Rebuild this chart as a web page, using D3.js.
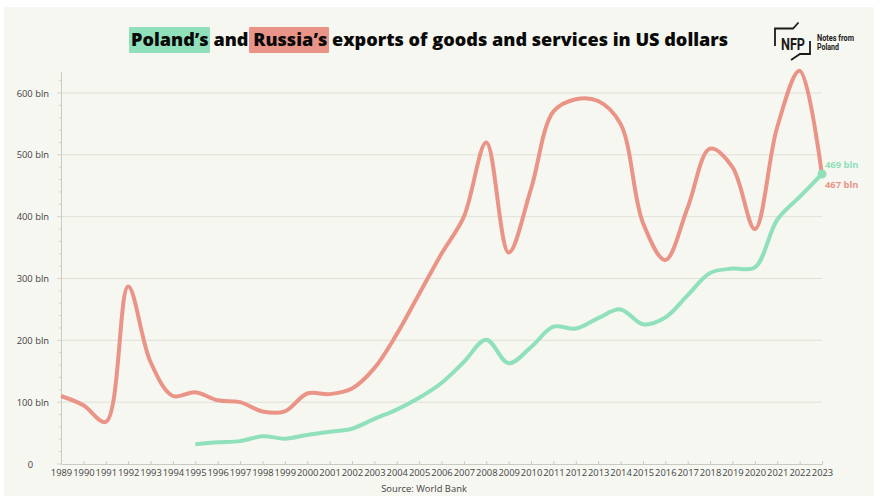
<!DOCTYPE html>
<html><head><meta charset="utf-8">
<script src="https://cdn.jsdelivr.net/npm/d3@7"></script>
<style>
html,body{margin:0;padding:0;background:#fff;}
text{font-family:"Open Sans",sans-serif;}
</style></head><body>
<svg id="c" width="887" height="504"></svg>
<script>
const years = d3.range(1989, 2024);
const russia = [110,95,68,287,165,110,116,103,100,85,85,114,113,122,155,210,275,340,400,520,342,445,570,590,587,550,390,330,415,510,480,380,545,636,467];
const polandYears = d3.range(1995, 2024);
const poland = [32,35,37,45,41,47,52,57,73,88,107,131,165,201,163,189,222,219,236,250,226,237,273,309,316,318,395,432,469];
const yTicks = [0,100,200,300,400,500,600];
const yMinor = d3.range(0,640,20);
const green = "#8fe0bb", red = "#ea9488";

const svg = d3.select("#c");
svg.append("rect").attr("x",4).attr("y",7).attr("width",870).attr("height",489).attr("fill","#f6f7f0");

const x = d3.scaleLinear().domain([1989,2023]).range([61,822]);
const y = d3.scaleLinear().domain([0,600]).range([464,93]);

// grid
svg.append("g").selectAll("line").data(yTicks.slice(1)).join("line")
  .attr("x1",61).attr("x2",822).attr("y1",d=>y(d)).attr("y2",d=>y(d))
  .attr("stroke","#dfe0d8").attr("stroke-width",1);

// axes
const gx = svg.append("g").attr("transform",`translate(0,${y(0)})`)
  .call(d3.axisBottom(x).tickValues(years).tickFormat(d3.format("d")).tickSize(-3).tickPadding(5));
gx.select(".domain").attr("stroke","#c9cac2");
gx.selectAll("line").attr("stroke","#c9cac2");
gx.selectAll("text").attr("font-size",9.4).attr("fill","#444");

const gy = svg.append("g").attr("transform",`translate(${x(1989)},0)`)
  .call(d3.axisLeft(y).tickValues(yMinor).tickFormat("").tickSize(0));
gy.select(".domain").attr("stroke","#c9cac2").attr("d",`M0.5,${y(0)}V72`);
svg.append("g").selectAll("line").data(yMinor).join("line")
  .attr("x1",61).attr("x2",d=>d%100===0?57:59).attr("y1",d=>y(d)).attr("y2",d=>y(d))
  .attr("stroke","#d2d3cb");
svg.append("g").selectAll("text").data(yTicks).join("text")
  .attr("x",d=>d===0?33:49).attr("y",d=>y(d)+3.5).attr("text-anchor","end")
  .attr("font-size",9.4).attr("fill","#444")
  .text(d=>d===0?"0":d+" bln");

// lines
const line = d3.line().x(d=>x(d[0])).y(d=>y(d[1])).curve(d3.curveCatmullRom.alpha(0.5));
svg.append("path").datum(years.map((d,i)=>[d,russia[i]])).attr("d",line)
  .attr("fill","none").attr("stroke",red).attr("stroke-width",4);
svg.append("path").datum(polandYears.map((d,i)=>[d,poland[i]])).attr("d",line)
  .attr("fill","none").attr("stroke",green).attr("stroke-width",4);
svg.append("circle").attr("cx",x(2023)).attr("cy",y(poland[poland.length-1])).attr("r",4.5).attr("fill",green);

svg.append("text").attr("x",825).attr("y",168).attr("font-size",9.4).attr("font-weight",700).attr("fill",green).text("469 bln");
svg.append("text").attr("x",825).attr("y",188).attr("font-size",9.4).attr("font-weight",700).attr("fill",red).text("467 bln");

// title
svg.append("rect").attr("x",129).attr("y",27).attr("width",81).attr("height",26).attr("rx",1).attr("fill",green);
svg.append("rect").attr("x",249).attr("y",27).attr("width",80).attr("height",26).attr("rx",1).attr("fill",red);
svg.append("text").attr("x",131).attr("y",46).attr("font-size",18.1).attr("font-weight",800).attr("fill","#0a0a0a")
  .text("Poland’s and Russia’s exports of goods and services in US dollars");

// source
svg.append("text").attr("x",424).attr("y",492).attr("text-anchor","middle").attr("font-size",9.4).attr("fill","#444").text("Source: World Bank");

// logo
const logo = svg.append("g").attr("fill","none").attr("stroke","#1a1a1a").attr("stroke-width",1.8);
logo.append("path").attr("d","M775,46V28.5H793L798.5,22.5");
logo.append("path").attr("d","M810,41V54H800L791,60");
function logoText(t,px,py,fs,w){
  svg.append("text").attr("x",px).attr("y",py).attr("font-size",fs).attr("font-weight",700).attr("fill","#1a1a1a")
    .style("font-family","Roboto").attr("textLength",w).attr("lengthAdjust","spacingAndGlyphs").text(t);
}
logoText("NFP",781,50,16,24);
logoText("Notes from",817,41,8.6,37);
logoText("Poland",817,50,8.6,22);
</script>
</body></html>
